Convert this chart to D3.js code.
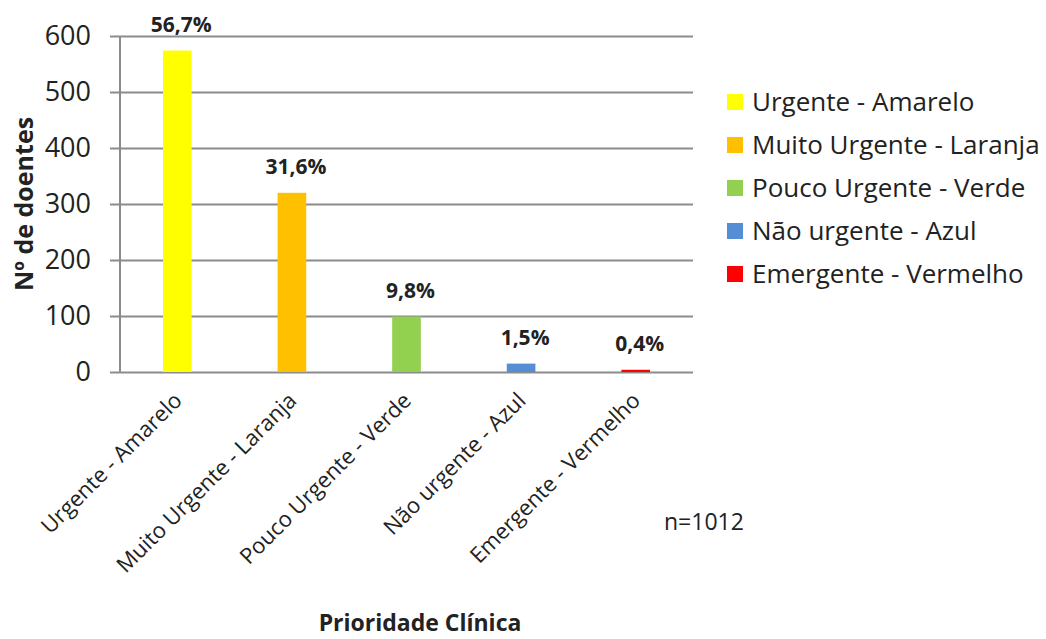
<!DOCTYPE html>
<html>
<head>
<meta charset="utf-8">
<script src="https://cdn.jsdelivr.net/npm/d3@7"></script>
<style>
  body { margin: 0; background: #fff; }
  svg { font-family: "Open Sans", "Liberation Sans", sans-serif; }
</style>
</head>
<body>
<div id="chart"></div>
<script>
// Triage priority chart

// Data
var categories = ["Urgente - Amarelo", "Muito Urgente - Laranja", "Pouco Urgente - Verde", "Não urgente - Azul", "Emergente - Vermelho"];
var counts = [574, 320, 99, 15, 4];
var percentLabels = ["56,7%", "31,6%", "9,8%", "1,5%", "0,4%"];
var colors = ["#FFFF00", "#FFC000", "#92D050", "#558ED5", "#FF0000"];
var yTicks = [0, 100, 200, 300, 400, 500, 600];

var width = 1046;
var height = 639;

// Plot box
var plotLeft = 120, plotRight = 693, plotTop = 36, plotBottom = 372;

var svg = d3.select("#chart")
  .append("svg")
  .attr("width", width)
  .attr("height", height);

var xScale = d3.scaleBand()
  .domain(categories)
  .range([plotLeft, plotRight])
  .paddingInner(0.75)
  .paddingOuter(0.375);

var yScale = d3.scaleLinear()
  .domain([0, 600])
  .range([plotBottom, plotTop]);

// Gridlines + left ticks
var yAxis = d3.axisLeft(yScale)
  .tickValues(yTicks)
  .tickSize(-(plotRight - plotLeft))
  .tickPadding(29)
  .tickFormat(d3.format("d"));

var yG = svg.append("g")
  .attr("class", "yAxis")
  .attr("transform", "translate(" + plotLeft + ",0)")
  .call(yAxis);

yG.select(".domain").remove();
yG.selectAll(".tick line")
  .attr("x1", -10)
  .attr("stroke", "#8c8c8c")
  .attr("stroke-width", 2);
yG.selectAll(".tick text")
  .attr("font-size", 27)
  .attr("font-family", "'Open Sans', sans-serif")
  .attr("fill", "#222");

// Vertical axis line
svg.append("line")
  .attr("x1", plotLeft).attr("x2", plotLeft)
  .attr("y1", plotTop).attr("y2", plotBottom)
  .attr("stroke", "#8c8c8c")
  .attr("stroke-width", 2);

// Bars
svg.selectAll(".bar")
  .data(counts)
  .enter()
  .append("rect")
  .attr("class", "bar")
  .attr("x", function(d, i) { return xScale(categories[i]); })
  .attr("width", xScale.bandwidth())
  .attr("y", function(d) { return yScale(d); })
  .attr("height", function(d) { return plotBottom - yScale(d); })
  .attr("fill", function(d, i) { return colors[i]; });

// Bar value labels
svg.selectAll(".pct")
  .data(counts)
  .enter()
  .append("text")
  .attr("class", "pct")
  .attr("x", function(d, i) { return xScale(categories[i]) + xScale.bandwidth() / 2 + 4; })
  .attr("y", function(d) { return yScale(d) - 19; })
  .attr("text-anchor", "middle")
  .attr("font-size", 21)
  .attr("font-weight", "bold")
  .attr("fill", "#222")
  .text(function(d, i) { return percentLabels[i]; });

// Category labels, rotated
svg.selectAll(".cat")
  .data(categories)
  .enter()
  .append("text")
  .attr("class", "cat")
  .attr("text-anchor", "end")
  .attr("font-size", 22)
  .attr("fill", "#222")
  .attr("transform", function(d) {
    var cx = xScale(d) + xScale.bandwidth() / 2 + 6;
    return "translate(" + cx + "," + (plotBottom + 30) + ") rotate(-45)";
  })
  .text(function(d) { return d; });

// Axis titles
svg.append("text")
  .attr("transform", "translate(33," + ((plotTop + plotBottom) / 2) + ") rotate(-90)")
  .attr("text-anchor", "middle")
  .attr("font-size", 25)
  .attr("font-weight", "bold")
  .attr("fill", "#222")
  .text("Nº de doentes");

svg.append("text")
  .attr("x", 420)
  .attr("y", 631)
  .attr("text-anchor", "middle")
  .attr("font-size", 23)
  .attr("font-weight", "bold")
  .attr("fill", "#222")
  .text("Prioridade Clínica");

svg.append("text")
  .attr("x", 664)
  .attr("y", 530)
  .attr("font-size", 23)
  .attr("fill", "#222")
  .text("n=1012");

// Legend
var legend = svg.append("g")
  .attr("transform", "translate(727,102)");

var rows = legend.selectAll(".leg")
  .data(categories)
  .enter()
  .append("g")
  .attr("class", "leg")
  .attr("transform", function(d, i) { return "translate(0," + (i * 43) + ")"; });

rows.append("rect")
  .attr("x", 0)
  .attr("y", -8)
  .attr("width", 16)
  .attr("height", 16)
  .attr("fill", function(d, i) { return colors[i]; });

rows.append("text")
  .attr("x", 25)
  .attr("dy", "0.36em")
  .attr("font-size", 26)
  .attr("fill", "#222")
  .text(function(d) { return d; });
</script>
</body>
</html>
